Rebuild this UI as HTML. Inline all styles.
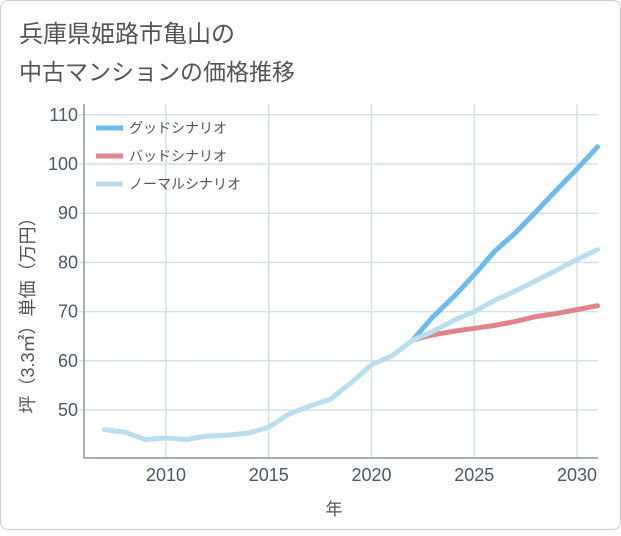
<!DOCTYPE html>
<html><head><meta charset="utf-8"><style>
body{margin:0;background:#fff;}
#card{position:absolute;left:0;top:0;width:619px;height:528px;border:1px solid #ccc;border-radius:8px;background:#fff;}
text{font-family:"Liberation Sans","Noto Sans CJK JP",sans-serif;}
</style></head><body>
<div id="card">
<svg id="chart" width="621" height="530">
<text x="18" y="41" font-size="24" fill="#555">兵庫県姫路市亀山の</text>
<text x="18" y="79" font-size="23" fill="#555">中古マンションの価格推移</text>
<g id="grid"></g><g id="axes"></g><g id="series"></g>
<text x="333" y="514" font-size="17" fill="#555" text-anchor="middle">年</text>
<text transform="translate(33,310) rotate(-90)" font-size="18" fill="#555" text-anchor="middle">坪（3.3㎡）単価（万円）</text>
<g id="legend"></g>
</svg></div>
<script>
const years=[2007,2008,2009,2010,2011,2012,2013,2014,2015,2016,2017,2018,2019,2020,2021,2022];
const histValues=[46,45.5,44,44.3,44,44.7,44.9,45.3,46.5,49.2,50.8,52.2,55.5,59.2,61,64.2];
const futureYears=[2022,2023,2024,2025,2026,2027,2028,2029,2030,2031];
const goodValues=[64.2,69,73,77.5,82.3,86,90.3,94.7,99,103.5];
const badValues=[64.2,65.3,66,66.6,67.2,68,69,69.6,70.4,71.2];
const normalValues=[64.2,66,68.2,70,72.3,74.2,76.3,78.4,80.6,82.6];
const xTicks=[2010,2015,2020,2025,2030];
const yTicks=[50,60,70,80,90,100,110];
const legendLabels=["グッドシナリオ","バッドシナリオ","ノーマルシナリオ"];
const L=83,R=597,T=103,B=457;
const x=v=>165+(v-2010)*20.55;
const y=v=>409-(v-50)*4.92;
const NS="http://www.w3.org/2000/svg";
function mk(tag,attrs,parent){const e=document.createElementNS(NS,tag);for(const k in attrs)e.setAttribute(k,attrs[k]);document.getElementById(parent).appendChild(e);return e;}
xTicks.forEach(t=>{
 const g=mk('line',{x1:x(t),x2:x(t),y1:T,y2:B,stroke:'#d3e0ea','stroke-width':1.5},'grid');
 
 
 const tx=mk('text',{x:x(t),y:B+23,'font-size':18,fill:'#4a5a6a','text-anchor':'middle'},'axes');
 tx.textContent=t;
 
 
});
yTicks.forEach(t=>{
 const g=mk('line',{x1:L-5,x2:R,y1:y(t),y2:y(t),stroke:'#d3e0ea','stroke-width':1.5},'grid');
 
 
 const tx=mk('text',{x:L-6,y:y(t)+6,'font-size':18,fill:'#4a5a6a','text-anchor':'end'},'axes');
 tx.textContent=t;
 
 
});
const ax=mk('path',{d:`M${L},${T} V${B} H${R}`,fill:'none',stroke:'#8a96a3','stroke-width':1.5},'axes');


function line(xs,vs,color,name){
 const p=mk('polyline',{points:xs.map((t,i)=>x(t)+','+y(vs[i])).join(' '),fill:'none',stroke:color,'stroke-width':5,'stroke-linejoin':'round','stroke-linecap':'round'},'series');
 
 
}
line(futureYears,badValues,'#e0868a','bad-scenario-line');
line(futureYears,goodValues,'#6bbcf2','good-scenario-line');
line(futureYears,normalValues,'#b8dff0','normal-scenario-line');
line(years,histValues,'#b8dff0','historical-line');
const colors=['#6bbcf2','#e0868a','#b8dff0'];
legendLabels.forEach((lab,i)=>{
 const yy=127+i*28;
 const l=mk('line',{x1:95,x2:122,y1:yy,y2:yy,stroke:colors[i],'stroke-width':5},'legend');
 
 
 const t=mk('text',{x:128,y:yy+5,'font-size':14,fill:'#555'},'legend');
 t.textContent=lab;
 
 
});
</script>
</body></html>
